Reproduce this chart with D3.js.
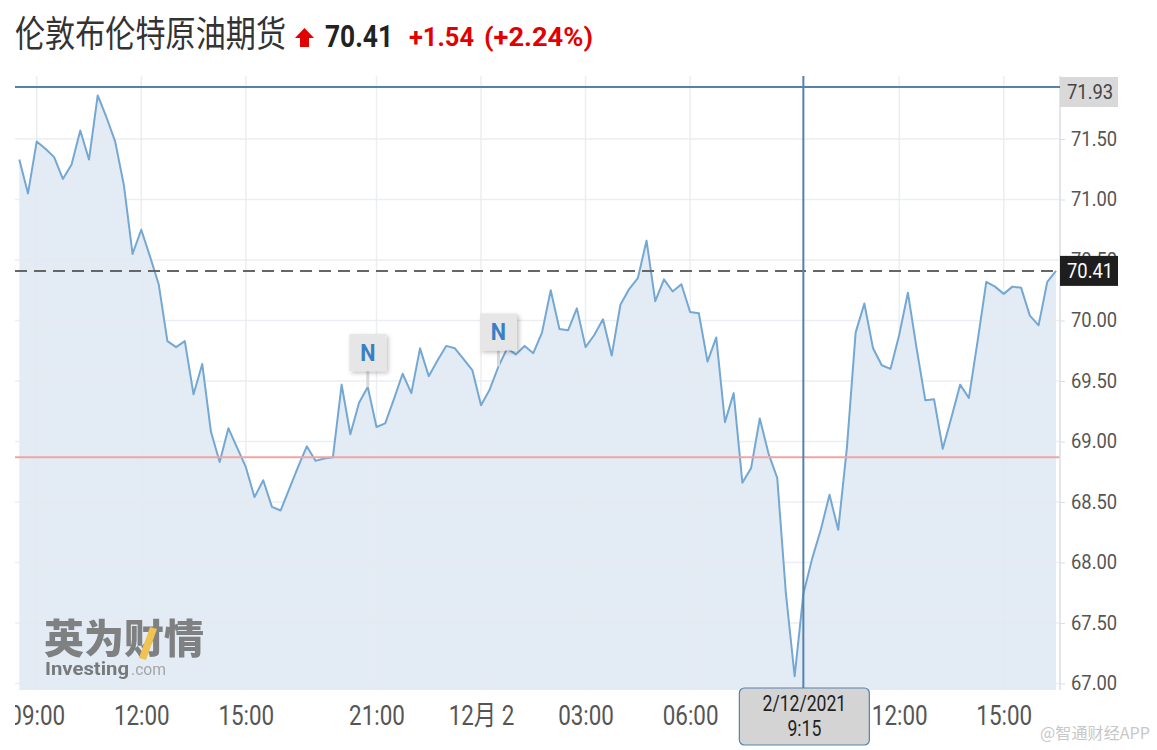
<!DOCTYPE html>
<html lang="zh">
<head>
<meta charset="utf-8">
<title>伦敦布伦特原油期货</title>
<style>
 body { margin: 0; background: #fff; font-family: Roboto, "Noto Sans CJK SC", sans-serif; }
</style>
<script src="https://d3js.org/d3.v7.min.js"></script>
</head>
<body>
<script>
 // 15-minute closes, 1 Dec 08:30 -> 2 Dec 16:15
 const prices = [
   71.33, 71.05, 71.48, 71.42, 71.35, 71.17, 71.29, 71.57, 71.33, 71.86,
   71.68, 71.48, 71.12, 70.55, 70.75, 70.53, 70.30, 69.83, 69.78, 69.83,
   69.39, 69.64, 69.08, 68.83, 69.11, 68.95, 68.79, 68.54, 68.68, 68.46,
   68.43, 68.61, 68.79, 68.96, 68.84, 68.86, 68.87, 69.47, 69.06, 69.32,
   69.45, 69.12, 69.15, 69.35, 69.56, 69.40, 69.77, 69.54, 69.67, 69.79,
   69.77, 69.68, 69.59, 69.30, 69.43, 69.62, 69.77, 69.72, 69.79, 69.73,
   69.90, 70.25, 69.93, 69.92, 70.10, 69.78, 69.88, 70.01, 69.71, 70.13,
   70.26, 70.35, 70.66, 70.16, 70.34, 70.24, 70.30, 70.07, 70.06, 69.66,
   69.86, 69.16, 69.40, 68.66, 68.78, 69.19, 68.90, 68.70, 67.74, 67.06,
   67.74, 68.03, 68.27, 68.56, 68.27, 68.95, 69.90, 70.14, 69.77, 69.63,
   69.60, 69.88, 70.23, 69.77, 69.34, 69.35, 68.94, 69.20, 69.47, 69.36,
   69.83, 70.32, 70.28, 70.22, 70.28, 70.27, 70.04, 69.96, 70.32, 70.41
 ];
 const tickIndex = [2, 14, 26, 41, 53, 65, 77, 101, 113];
 const tickLabels = ['09:00', '12:00', '15:00', '21:00', '12月 2', '03:00', '06:00', '12:00', '15:00'];
 const yTicks = [67, 67.5, 68, 68.5, 69, 69.5, 70, 70.5, 71, 71.5];
 const newsIndex = [40, 55];
 const lastPrice = 70.41;
 const prevClose = 68.87;
 const cursorIndex = 90;
 const cursorValue = 71.93;
 const cursorDate = ['2/12/2021', '9:15'];
 const title = '伦敦布伦特原油期货';
 const change = '+1.54';
 const changePct = '(+2.24%)';

 const W = 1157, H = 750;
 const plot = {left: 15, right: 1060, top: 76, bottom: 690};

 const svg = d3.select('body').append('svg').attr('width', W).attr('height', H);
 const defs = svg.append('defs');
 defs.append('clipPath').attr('id', 'xclip')
     .append('rect').attr('x', plot.left).attr('y', plot.bottom).attr('width', W).attr('height', 60);
 const shadow = defs.append('filter').attr('id', 'shadow')
     .attr('x', '-30%').attr('y', '-30%').attr('width', '160%').attr('height', '160%');
 shadow.append('feDropShadow').attr('dx', 2).attr('dy', 2).attr('stdDeviation', 2)
     .attr('flood-color', '#000').attr('flood-opacity', 0.25);

 const x = d3.scaleLinear().domain([0, prices.length - 1]).range([19.3, 1056]);
 const y = d3.scaleLinear().domain([67, 71.5]).range([683.5, 139]);

 //Header
 function headText(str, px, py, len, size, weight, color, family) {
     svg.append('text')
        .attr('x', px).attr('y', py)
        .attr('textLength', len).attr('lengthAdjust', 'spacingAndGlyphs')
        .style('font-size', size + 'px').style('font-weight', weight)
        .style('font-family', family || 'Roboto, sans-serif')
        .attr('fill', color)
        .text(str);
 }
 headText(title, 15, 47, 271, 36, 400, '#333', '"Noto Sans CJK SC", sans-serif');
 svg.append('path')
    .attr('d', 'M304.5,28 L314,38 L309,38 L309,47 L300,47 L300,38 L295,38 Z')
    .attr('fill', '#e30000');
 headText(String(lastPrice), 325, 47, 68, 31, 700, '#222');
 headText(change, 409, 46, 65, 26, 700, '#e30000');
 headText(changePct, 484, 46, 109, 26, 700, '#e30000');

 //Area and line
 svg.append('path')
    .datum(prices)
    .attr('fill', '#e3ecf5')
    .attr('d', d3.area().x((d, i) => x(i)).y0(plot.bottom).y1(d => y(d)));

 //Grid
 const grid = svg.append('g').attr('stroke', '#e6eaef').attr('stroke-opacity', 0.8).attr('stroke-width', 1.5);
 grid.selectAll('.gy').data(yTicks).enter().append('line')
     .attr('x1', plot.left).attr('x2', plot.right)
     .attr('y1', d => y(d)).attr('y2', d => y(d));
 grid.selectAll('.gx').data(tickIndex).enter().append('line')
     .attr('x1', d => x(d)).attr('x2', d => x(d))
     .attr('y1', plot.top).attr('y2', plot.bottom);

 svg.append('path')
    .datum(prices)
    .attr('fill', 'none')
    .attr('stroke', '#74a8d3')
    .attr('stroke-width', 2)
    .attr('stroke-linejoin', 'round')
    .attr('d', d3.line().x((d, i) => x(i)).y(d => y(d)));

 //Reference lines
 svg.append('line')
    .attr('x1', plot.left).attr('x2', plot.right)
    .attr('y1', y(prevClose)).attr('y2', y(prevClose))
    .attr('stroke', '#f0a4a4').attr('stroke-width', 2);
 svg.append('line')
    .attr('x1', plot.left).attr('x2', plot.right)
    .attr('y1', y(lastPrice)).attr('y2', y(lastPrice))
    .attr('stroke', '#666').attr('stroke-width', 2).attr('stroke-dasharray', '12,7');

 //News markers
 newsIndex.forEach(function (i) {
     const cx = x(i), py = y(prices[i]);
     const g = svg.append('g');
     g.append('line').attr('x1', cx).attr('x2', cx).attr('y1', py - 16).attr('y2', py)
      .attr('stroke', '#d9d9d9').attr('stroke-width', 3);
     g.append('rect').attr('x', cx - 18.5).attr('y', py - 53).attr('width', 37).attr('height', 37)
      .attr('fill', '#e6e6e6').attr('filter', 'url(#shadow)');
     g.append('text').attr('transform', 'translate(' + cx + ',' + (py - 26) + ') scale(0.9,1)')
      .attr('text-anchor', 'middle')
      .style('font-size', '24px').style('font-weight', 700)
      .attr('fill', '#3a7fc6')
      .text('N');
 });

 //Y axis
 svg.append('line')
    .attr('x1', plot.right).attr('x2', plot.right)
    .attr('y1', plot.top).attr('y2', plot.bottom)
    .attr('stroke', '#d8dee6').attr('stroke-width', 1.5);
 const yAxis = svg.append('g')
    .attr('transform', 'translate(' + plot.right + ',0)')
    .call(d3.axisRight(y).tickValues(yTicks).tickFormat(d3.format('.2f')).tickSize(5));
 yAxis.select('.domain').remove();
 yAxis.selectAll('line').attr('stroke', '#d8dee6');
 yAxis.selectAll('text')
      .attr('x', 11 / 0.92).attr('transform', 'scale(0.92,1)')
      .style('font-size', '20px').style('font-family', 'Roboto, sans-serif')
      .attr('fill', '#555');

 //X axis
 const xAxis = svg.append('g')
    .attr('clip-path', 'url(#xclip)')
    .append('g')
    .attr('transform', 'translate(0,' + plot.bottom + ')')
    .call(d3.axisBottom(x).tickValues(tickIndex).tickFormat((d, i) => tickLabels[i]).tickSize(0).tickPadding(16));
 xAxis.select('.domain').remove();
 xAxis.selectAll('text')
      .attr('transform', 'scale(0.83,1)')
      .style('font-size', '27px').style('font-family', 'Roboto, "Noto Sans CJK SC", sans-serif')
      .attr('fill', '#555');

 //Cursor
 const cursorColor = '#5582ad';
 svg.append('line')
    .attr('x1', plot.left).attr('x2', plot.right)
    .attr('y1', y(cursorValue)).attr('y2', y(cursorValue))
    .attr('stroke', cursorColor).attr('stroke-width', 2);
 svg.append('line')
    .attr('x1', x(cursorIndex)).attr('x2', x(cursorIndex))
    .attr('y1', plot.top).attr('y2', 688)
    .attr('stroke', cursorColor).attr('stroke-width', 2);

 //Price labels on axis
 const boxCursorY = Math.max(y(cursorValue) - 15, 77);
 svg.append('rect').attr('x', plot.right).attr('y', boxCursorY).attr('width', 58).attr('height', 30)
    .attr('fill', '#d9d9d9');
 svg.append('text')
    .attr('transform', 'translate(1067,' + (boxCursorY + 22) + ') scale(0.92,1)')
    .style('font-size', '20px').attr('fill', '#444')
    .text(cursorValue.toFixed(2));
 svg.append('rect').attr('x', plot.right).attr('y', y(lastPrice) - 15).attr('width', 58).attr('height', 30)
    .attr('fill', '#1e1e1e');
 svg.append('text')
    .attr('transform', 'translate(1067,' + (y(lastPrice) + 7) + ') scale(0.92,1)')
    .style('font-size', '20px').attr('fill', '#fff')
    .text(lastPrice.toFixed(2));

 //Date label under cursor
 const cx = x(cursorIndex);
 svg.append('rect')
    .attr('x', cx - 64).attr('y', 688).attr('width', 130).attr('height', 57).attr('rx', 5)
    .attr('fill', '#d4d4d4').attr('stroke', cursorColor).attr('stroke-width', 1.2);
 cursorDate.forEach(function (t, i) {
     svg.append('text')
        .attr('transform', 'translate(' + (cx + 1) + ',' + (711 + i * 25) + ') scale(0.8,1)')
        .attr('text-anchor', 'middle')
        .style('font-size', '22px').attr('fill', '#222')
        .text(t);
 });

 //Watermarks
 const wm = svg.append('g').attr('opacity', 0.85);
 wm.append('text').attr('x', 44).attr('y', 653)
   .attr('textLength', 160).attr('lengthAdjust', 'spacingAndGlyphs')
   .style('font-family', '"Noto Sans CJK SC", sans-serif').style('font-size', '40px').style('font-weight', 900)
   .attr('fill', '#6e6e6e').text('英为财情');
 wm.append('path').attr('d', 'M150,627 L157,629 L146,660 L139,658 Z').attr('fill', '#f2bb35');
 wm.append('text').attr('x', 45).attr('y', 675)
   .attr('textLength', 84).attr('lengthAdjust', 'spacingAndGlyphs')
   .style('font-size', '18px').style('font-weight', 700)
   .attr('fill', '#666').text('Investing');
 wm.append('text').attr('x', 131).attr('y', 675)
   .attr('textLength', 35).attr('lengthAdjust', 'spacingAndGlyphs')
   .style('font-size', '17px')
   .attr('fill', '#999').text('.com');

 svg.append('text').attr('x', 1040).attr('y', 739)
    .attr('textLength', 110).attr('lengthAdjust', 'spacingAndGlyphs')
    .style('font-family', '"Noto Sans CJK SC", sans-serif').style('font-size', '16px')
    .attr('fill', '#c8c8c8').text('@智通财经APP');
</script>
</body>
</html>
